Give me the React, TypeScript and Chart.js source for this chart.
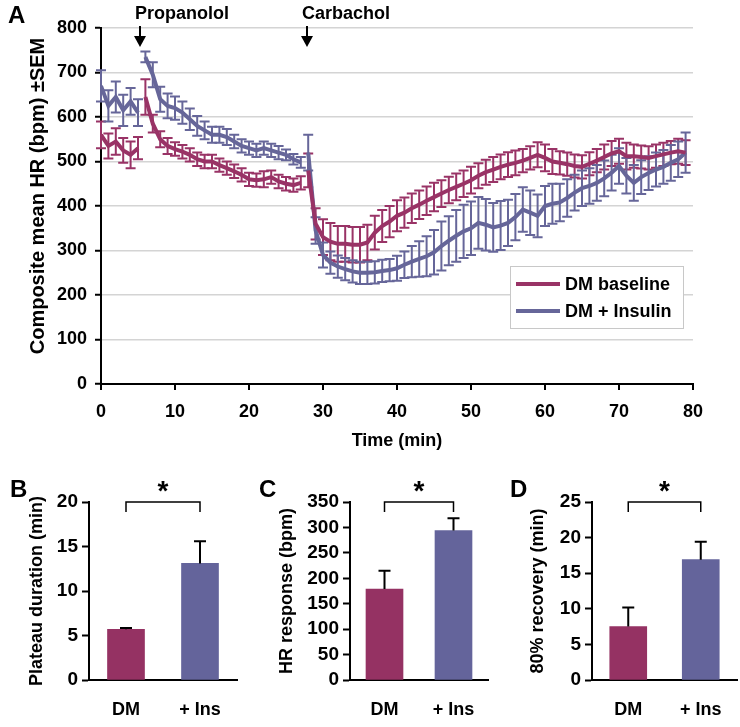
import React, { useEffect, useRef } from 'react';
import { Chart, registerables } from 'chart.js';

Chart.register(...registerables);

const FONT_FAMILY = '"Liberation Sans", Arial, Helvetica, sans-serif';
const RED = '#993366';
const BLUE = '#666699';
const RED_BAR = '#953263';
const BLUE_BAR = '#64649B';

// ---- Panel A data (time in minutes, composite mean HR in bpm, SEM) ----
const baselineTime = [0, 1, 2, 3, 4, 5];
const propranololTime = [6, 7, 8, 9, 10, 11, 12, 13, 14, 15, 16, 17, 18, 19, 20, 21, 22, 23, 24, 25, 26, 27];
const carbacholTime = [
  28, 29, 30, 31, 32, 33, 34, 35, 36, 37, 38, 39, 40, 41, 42, 43, 44, 45, 46, 47, 48, 49, 50, 51, 52, 53,
  54, 55, 56, 57, 58, 59, 60, 61, 62, 63, 64, 65, 66, 67, 68, 69, 70, 71, 72, 73, 74, 75, 76, 77, 78, 79,
];

const dmBaseline1 = [560, 535, 545, 525, 515, 530];
const dmBaselineSem1 = [30, 28, 30, 28, 30, 25];
const dmInsulin1 = [670, 625, 645, 615, 635, 610];
const dmInsulinSem1 = [35, 35, 35, 35, 30, 30];

const dmBaseline2 = [645, 585, 550, 535, 528, 522, 515, 505, 500, 500, 492, 485, 478, 470, 460, 458, 460, 465, 455, 450, 447, 452];
const dmBaselineSem2 = [40, 20, 18, 18, 15, 15, 15, 15, 15, 15, 15, 15, 15, 15, 15, 15, 18, 15, 15, 15, 15, 15];
const dmInsulin2 = [735, 695, 640, 625, 620, 610, 595, 580, 570, 560, 560, 555, 545, 535, 530, 525, 530, 525, 520, 515, 505, 498];
const dmInsulinSem2 = [12, 28, 28, 28, 26, 25, 24, 22, 20, 18, 18, 18, 15, 15, 15, 15, 15, 15, 15, 12, 12, 12];

const dmBaseline3 = [
  480, 360, 330, 320, 315, 315, 313, 313, 318, 340, 355, 365, 378, 385, 395, 403, 412, 420, 428, 436, 443, 450, 458, 468, 476, 482,
  488, 493, 497, 502, 508, 515, 508, 500, 497, 494, 490, 488, 495, 502, 510, 518, 523, 512, 512, 510, 508, 512, 516, 520, 523, 520,
];
const dmBaselineSem3 = [
  38, 35, 40, 42, 40, 40, 40, 40, 40, 38, 36, 35, 35, 34, 33, 32, 32, 32, 30, 30, 30, 30, 30, 28, 28, 28,
  28, 28, 28, 26, 26, 28, 30, 28, 26, 26, 26, 26, 26, 26, 28, 28, 28, 30, 26, 26, 26, 26, 26, 26, 28, 28,
];
const dmInsulin3 = [
  520, 345, 290, 273, 264, 258, 253, 250, 250, 251, 254, 256, 260, 268, 275, 281, 287, 296, 310, 322, 333, 343, 350, 362, 358, 352,
  356, 362, 375, 392, 385, 378, 400, 405, 408, 418, 430, 440, 445, 452, 462, 475, 490, 468, 452, 465, 474, 482, 488, 497, 505, 520,
];
const dmInsulinSem3 = [
  40, 30, 28, 25, 25, 25, 25, 25, 25, 25, 25, 25, 28, 30, 35, 40, 45, 50, 55, 55, 58, 60, 60, 58, 58, 55,
  55, 52, 52, 50, 50, 48, 45, 45, 42, 42, 40, 40, 40, 40, 40, 40, 40, 40, 40, 38, 38, 38, 38, 40, 40, 45,
];

const propranololAt = 5.3;
const carbacholAt = 27.8;
const seriesNames = ['DM baseline', 'DM + Insulin'];
const mainYTitle = 'Composite mean HR (bpm) ±SEM';

// ---- Panels B, C, D ----
const barCategories = ['DM', '+ Ins'];
const plateauMeans = [5.7, 13.1];
const plateauSem = [0.15, 2.5];
const hrResponseMeans = [179, 294];
const hrResponseSem = [36, 24];
const recoveryMeans = [7.5, 16.9];
const recoverySem = [2.7, 2.5];

const bold = (size: number) => ({ family: FONT_FAMILY, size, weight: 'bold' as const });
const cssBold = (size: number) => `bold ${size}px ${FONT_FAMILY}`;

function joinSegments(times: number[][], values: number[][], errs: number[][]) {
  const pts: { x: number; y: number | null }[] = [];
  const e: (number | null)[] = [];
  times.forEach((t, si) => {
    if (si > 0) {
      const prev = times[si - 1];
      pts.push({ x: (prev[prev.length - 1] + t[0]) / 2, y: null });
      e.push(null);
    }
    t.forEach((x, i) => {
      pts.push({ x, y: values[si][i] });
      e.push(errs[si][i]);
    });
  });
  return { pts, e };
}

const lineErrorBars = {
  id: 'lineErrorBars',
  beforeDatasetsDraw(chart: any) {
    const ctx = chart.ctx;
    const xs = chart.scales.x;
    const ys = chart.scales.y;
    chart.data.datasets.forEach((ds: any) => {
      const errs = ds.errors;
      if (!errs) return;
      ctx.save();
      ctx.strokeStyle = ds.borderColor;
      ctx.lineWidth = 2;
      ds.data.forEach((p: any, j: number) => {
        if (p.y == null || errs[j] == null) return;
        const x = xs.getPixelForValue(p.x);
        const y1 = ys.getPixelForValue(p.y + errs[j]);
        const y2 = ys.getPixelForValue(p.y - errs[j]);
        ctx.beginPath();
        ctx.moveTo(x, y1);
        ctx.lineTo(x, y2);
        ctx.moveTo(x - 5, y1);
        ctx.lineTo(x + 5, y1);
        ctx.moveTo(x - 5, y2);
        ctx.lineTo(x + 5, y2);
        ctx.stroke();
      });
      ctx.restore();
    });
  },
};

const mainDecor = {
  id: 'mainDecor',
  afterDraw(chart: any) {
    const ctx = chart.ctx;
    const xs = chart.scales.x;
    ctx.save();
    ctx.fillStyle = '#000';
    ctx.strokeStyle = '#000';
    ctx.textBaseline = 'middle';
    ctx.textAlign = 'left';
    ctx.font = cssBold(24);
    ctx.fillText('A', 8, 16);
    // y-axis title
    ctx.save();
    ctx.translate(38, 196);
    ctx.rotate(-Math.PI / 2);
    ctx.textAlign = 'center';
    ctx.font = cssBold(20);
    ctx.fillText(mainYTitle, 0, 0);
    ctx.restore();
    const arrows: [number, string][] = [
      [propranololAt, 'Propanolol'],
      [carbacholAt, 'Carbachol'],
    ];
    arrows.forEach(([t, label]) => {
      const x = Math.round(xs.getPixelForValue(t));
      ctx.font = cssBold(18);
      ctx.fillText(label, x - 5, 14);
      ctx.lineWidth = 2;
      ctx.beginPath();
      ctx.moveTo(x, 26);
      ctx.lineTo(x, 38);
      ctx.stroke();
      ctx.beginPath();
      ctx.moveTo(x - 6, 36);
      ctx.lineTo(x + 6, 36);
      ctx.lineTo(x, 47);
      ctx.closePath();
      ctx.fill();
    });
    // legend
    const bx = 510, by = 266, bw = 173, bh = 62;
    ctx.fillStyle = '#fff';
    ctx.fillRect(bx, by, bw, bh);
    ctx.strokeStyle = '#c8c8c8';
    ctx.lineWidth = 1;
    ctx.strokeRect(bx + 0.5, by + 0.5, bw, bh);
    const cols = [RED, BLUE];
    seriesNames.forEach((name, i) => {
      const y = by + 18 + i * 27;
      ctx.strokeStyle = cols[i];
      ctx.lineWidth = 4;
      ctx.beginPath();
      ctx.moveTo(516, y);
      ctx.lineTo(560, y);
      ctx.stroke();
      ctx.fillStyle = '#000';
      ctx.font = cssBold(18);
      ctx.fillText(name, 565, y + 1);
    });
    ctx.restore();
  },
};

function MainChart() {
  const ref = useRef<HTMLCanvasElement>(null);
  useEffect(() => {
    const red = joinSegments(
      [baselineTime, propranololTime, carbacholTime],
      [dmBaseline1, dmBaseline2, dmBaseline3],
      [dmBaselineSem1, dmBaselineSem2, dmBaselineSem3]
    );
    const blue = joinSegments(
      [baselineTime, propranololTime, carbacholTime],
      [dmInsulin1, dmInsulin2, dmInsulin3],
      [dmInsulinSem1, dmInsulinSem2, dmInsulinSem3]
    );
    const chart = new Chart(ref.current!, {
      type: 'line',
      data: {
        datasets: [
          {
            label: seriesNames[0],
            data: red.pts as any,
            errors: red.e,
            borderColor: RED,
            borderWidth: 4,
            pointRadius: 0,
            spanGaps: false,
            tension: 0,
          } as any,
          {
            label: seriesNames[1],
            data: blue.pts as any,
            errors: blue.e,
            borderColor: BLUE,
            borderWidth: 4,
            pointRadius: 0,
            spanGaps: false,
            tension: 0,
          } as any,
        ],
      },
      options: {
        animation: false,
        responsive: false,
        layout: { padding: { left: 0, right: 47, top: 28, bottom: 0 } },
        plugins: { legend: { display: false }, tooltip: { enabled: false } },
        scales: {
          x: {
            type: 'linear',
            min: 0,
            max: 80,
            ticks: { stepSize: 10, font: bold(18), color: '#000', padding: 11, maxRotation: 0 },
            grid: { drawOnChartArea: false, tickLength: 6, tickColor: '#000', lineWidth: 2 },
            border: { color: '#000', width: 2 },
            title: { display: true, text: 'Time (min)', font: bold(18), color: '#000', padding: { top: 0, bottom: 8 } },
            afterFit: (s: any) => {
              s.height = 76;
            },
          },
          y: {
            min: 0,
            max: 800,
            ticks: { stepSize: 100, font: bold(18), color: '#000', padding: 8 },
            grid: { color: '#d4d4d4', lineWidth: 1.5, tickLength: 6, tickColor: '#000', tickWidth: 2 },
            border: { color: '#000', width: 2 },
            title: { display: false },
            afterFit: (s: any) => {
              s.width = 101;
            },
          },
        },
      } as any,
      plugins: [lineErrorBars, mainDecor],
    });
    return () => chart.destroy();
  }, []);
  return (
    <canvas
      ref={ref}
      width={740}
      height={460}
      style={{ position: 'absolute', left: 0, top: 0, width: 740, height: 460 }}
    />
  );
}

type BarProps = {
  left: number;
  width: number;
  axisX: number;
  rightPad: number;
  means: number[];
  sems: number[];
  max: number;
  step: number;
  title: string;
  titlePad: number;
  letter: string;
  letterX: number;
};

function BarPanel(p: BarProps) {
  const ref = useRef<HTMLCanvasElement>(null);
  useEffect(() => {
    const decor = {
      id: 'barDecor',
      afterDatasetsDraw(chart: any) {
        const ctx = chart.ctx;
        const xs = chart.scales.x;
        const ys = chart.scales.y;
        ctx.save();
        ctx.strokeStyle = '#000';
        ctx.fillStyle = '#000';
        ctx.lineWidth = 2;
        // error bars (upper only)
        p.means.forEach((m, i) => {
          const x = xs.getPixelForValue(i);
          const y0 = ys.getPixelForValue(m);
          const y1 = ys.getPixelForValue(m + p.sems[i]);
          ctx.beginPath();
          ctx.moveTo(x, y0);
          ctx.lineTo(x, y1);
          ctx.moveTo(x - 6, y1);
          ctx.lineTo(x + 6, y1);
          ctx.stroke();
        });
        // significance bracket
        const xa = xs.getPixelForValue(0);
        const xb = xs.getPixelForValue(1);
        const yb = ys.getPixelForValue(p.max);
        ctx.lineWidth = 1.5;
        ctx.beginPath();
        ctx.moveTo(xa, yb + 10);
        ctx.lineTo(xa, yb);
        ctx.lineTo(xb, yb);
        ctx.lineTo(xb, yb + 10);
        ctx.stroke();
        ctx.textAlign = 'center';
        ctx.textBaseline = 'middle';
        ctx.font = cssBold(28);
        ctx.fillText('*', (xa + xb) / 2, yb - 10);
        ctx.textAlign = 'left';
        ctx.font = cssBold(24);
        ctx.fillText(p.letter, p.letterX, 30);
        ctx.restore();
      },
    };
    const chart = new Chart(ref.current!, {
      type: 'bar',
      data: {
        labels: barCategories,
        datasets: [
          {
            data: p.means,
            backgroundColor: [RED_BAR, BLUE_BAR],
            barThickness: 37,
            borderWidth: 0,
          },
        ],
      },
      options: {
        animation: false,
        responsive: false,
        layout: { padding: { left: 0, right: p.rightPad, top: 42, bottom: 0 } },
        plugins: { legend: { display: false }, tooltip: { enabled: false } },
        scales: {
          x: {
            ticks: { font: bold(18), color: '#000', padding: 11 },
            grid: { display: false },
            border: { color: '#000', width: 2 },
            afterFit: (s: any) => {
              s.height = 47;
            },
          },
          y: {
            min: 0,
            max: p.max,
            ticks: { stepSize: p.step, font: bold(19), color: '#000', padding: 4, autoSkip: false },
            grid: { drawOnChartArea: false, tickLength: 7, tickColor: '#000', tickWidth: 2 },
            border: { color: '#000', width: 2 },
            title: {
              display: true,
              text: p.title,
              font: bold(18),
              color: '#000',
              padding: { top: p.titlePad, bottom: 0 },
            },
            afterFit: (s: any) => {
              s.width = p.axisX;
            },
          },
        },
      } as any,
      plugins: [decor],
    });
    return () => chart.destroy();
  }, []);
  return (
    <canvas
      ref={ref}
      width={p.width}
      height={267}
      style={{ position: 'absolute', left: p.left, top: 460, width: p.width, height: 267 }}
    />
  );
}

export default function App() {
  return (
    <div style={{ position: 'absolute', left: 0, top: 0, width: 740, height: 727, background: '#fff' }}>
      <MainChart />
      <BarPanel
        left={0}
        width={245}
        axisX={89}
        rightPad={8}
        means={plateauMeans}
        sems={plateauSem}
        max={20}
        step={5}
        title="Plateau duration (min)"
        titlePad={26}
        letter="B"
        letterX={10}
      />
      <BarPanel
        left={245}
        width={245}
        axisX={105}
        rightPad={2}
        means={hrResponseMeans}
        sems={hrResponseSem}
        max={350}
        step={50}
        title="HR response (bpm)"
        titlePad={31}
        letter="C"
        letterX={14}
      />
      <BarPanel
        left={490}
        width={250}
        axisX={102}
        rightPad={3}
        means={recoveryMeans}
        sems={recoverySem}
        max={25}
        step={5}
        title="80% recovery (min)"
        titlePad={37}
        letter="D"
        letterX={20}
      />
    </div>
  );
}
